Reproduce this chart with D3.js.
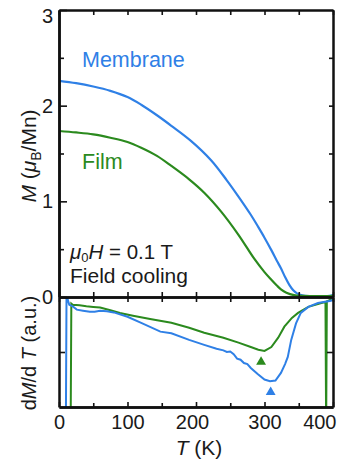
<!DOCTYPE html>
<html><head><meta charset="utf-8">
<script src="https://cdn.jsdelivr.net/npm/d3@7"></script>
<style>
body{margin:0;background:#fff}
svg{display:block}
text{font-family:"Liberation Sans",Arial,Helvetica,sans-serif;fill:#1a1a1a}
</style>
</head><body><svg id="c" width="342" height="464"></svg>
<script>
// ---- data ----
const memT = [0, 25, 50, 75, 100, 120, 143, 164, 193, 222, 245, 262, 280, 291, 300, 310, 318, 324, 330, 336, 342, 348, 355, 365, 380, 395, 400];
const memM = [2.26, 2.235, 2.20, 2.155, 2.09, 2.01, 1.90, 1.79, 1.63, 1.43, 1.22, 1.05, 0.86, 0.73, 0.62, 0.49, 0.38, 0.30, 0.21, 0.13, 0.07, 0.035, 0.018, 0.01, 0.01, 0.012, 0.02];
const filmT = [0, 25, 50, 75, 100, 120, 143, 164, 190, 212, 237, 262, 285, 300, 310, 318, 324, 332, 343, 355, 370, 390, 400];
const filmM = [1.735, 1.72, 1.70, 1.665, 1.62, 1.56, 1.475, 1.37, 1.23, 1.09, 0.89, 0.65, 0.40, 0.26, 0.18, 0.12, 0.08, 0.045, 0.02, 0.012, 0.01, 0.01, 0.012];

const memDT = [10, 11, 13, 15, 20, 26, 35, 45, 52, 60, 70, 80, 100, 120, 148, 164, 190, 212, 230, 240, 245, 250, 255, 260, 265, 270, 275, 280, 290, 300, 308, 316, 324, 330, 334, 339, 346, 353, 364, 378, 397, 404];
const memDV = [-1.2, 0.05, -0.03, -0.07, -0.085, -0.115, -0.125, -0.135, -0.135, -0.125, -0.13, -0.14, -0.18, -0.235, -0.315, -0.33, -0.39, -0.435, -0.47, -0.485, -0.5, -0.495, -0.52, -0.56, -0.57, -0.6, -0.61, -0.645, -0.70, -0.75, -0.765, -0.76, -0.69, -0.61, -0.545, -0.39, -0.24, -0.145, -0.09, -0.055, -0.035, -0.01];
const filmDT = [17, 18, 20, 30, 40, 50, 60, 75, 89, 108, 133, 164, 190, 212, 240, 262, 280, 291, 300, 310, 320, 329, 340, 349, 364, 383, 389, 390, 391, 398];
const filmDV = [-1.2, -0.06, -0.07, -0.075, -0.085, -0.09, -0.095, -0.12, -0.145, -0.17, -0.2, -0.235, -0.28, -0.325, -0.37, -0.415, -0.455, -0.48, -0.49, -0.455, -0.37, -0.27, -0.19, -0.145, -0.09, -0.055, -0.045, -1.2, -0.04, -0.02];

const peakT = [295, 309];         // film, membrane
const peakV = [-0.59, -0.865];

const xTicks = [0, 100, 200, 300, 400];
const yTicks = [0, 1, 2, 3];

const BLUE = "#2f80e6", GREEN = "#2b8a1e";

// ---- layout ----
const svg = d3.select("#c");
const L = 59, R = 333, T0 = 10, MID = 297, B = 407;
const x = d3.scaleLinear([0, 400], [L, R]);
const yT = d3.scaleLinear([0, 3], [MID, T0]);
const yB = d3.scaleLinear([-1, 0], [B, MID]);

svg.append("defs").append("clipPath").attr("id", "clipB")
  .append("rect").attr("x", L).attr("y", MID).attr("width", R - L).attr("height", B - MID);
svg.append("defs").append("clipPath").attr("id", "clipT")
  .append("rect").attr("x", L).attr("y", T0).attr("width", R - L).attr("height", MID - T0);

const lineT = d3.line().x(d => x(d[0])).y(d => yT(d[1])).curve(d3.curveCatmullRom.alpha(0.5));
const lineB = d3.line().x(d => x(d[0])).y(d => yB(d[1]));

// curves top
svg.append("path").datum(d3.zip(memT, memM)).attr("d", lineT)
  .attr("fill", "none").attr("stroke", BLUE).attr("stroke-width", 2.2).attr("clip-path", "url(#clipT)");
svg.append("path").datum(d3.zip(filmT, filmM)).attr("d", lineT)
  .attr("fill", "none").attr("stroke", GREEN).attr("stroke-width", 2.2).attr("clip-path", "url(#clipT)");

// curves bottom
svg.append("path").datum(d3.zip(filmDT, filmDV)).attr("d", lineB)
  .attr("fill", "none").attr("stroke", GREEN).attr("stroke-width", 2).attr("clip-path", "url(#clipB)");
svg.append("path").datum(d3.zip(memDT, memDV)).attr("d", lineB)
  .attr("fill", "none").attr("stroke", BLUE).attr("stroke-width", 2).attr("clip-path", "url(#clipB)");

// peak markers
const tri = d3.symbol().type(d3.symbolTriangle).size(42);
[GREEN, BLUE].forEach((c, i) => {
  svg.append("path").attr("d", tri)
    .attr("transform", `translate(${x(peakT[i])},${yB(peakV[i])})`).attr("fill", c);
});

// ---- axes ----
function style(g) {
  g.select(".domain").attr("stroke", "#111").attr("stroke-width", 2.5);
  g.selectAll(".tick line").attr("stroke", "#111").attr("stroke-width", 1.6);
  g.selectAll(".tick text").attr("font-size", 20).attr("fill", "#1a1a1a")
    .attr("font-family", '"Liberation Sans",Arial,sans-serif');
}
// top panel
const minorX = d3.range(0, 401, 50);
svg.append("g").attr("transform", `translate(0,${T0})`)
  .call(d3.axisTop(x).tickValues(minorX).tickSizeInner(-5).tickSizeOuter(0).tickFormat(""))
  .call(style);
svg.append("g").attr("transform", `translate(0,${MID})`)
  .call(d3.axisBottom(x).tickValues(minorX).tickSizeInner(-5).tickSizeOuter(0).tickFormat(""))
  .call(style);
svg.append("g").attr("transform", `translate(0,${MID})`)
  .call(d3.axisTop(x).tickValues(minorX).tickSizeInner(-5).tickSizeOuter(0).tickFormat(""))
  .call(style);
const gyL = svg.append("g").attr("transform", `translate(${L},0)`)
  .call(d3.axisLeft(yT).tickValues(yTicks).tickSizeInner(-8).tickSizeOuter(0).tickPadding(6).tickFormat(d3.format("d")))
  .call(style);
gyL.selectAll(".tick text").filter(d => d === 3).attr("dy", "0.6em");
svg.append("g").attr("transform", `translate(${L},0)`)
  .call(d3.axisLeft(yT).tickValues([0.5, 1.5, 2.5]).tickSizeInner(-5).tickSizeOuter(0).tickFormat(""))
  .call(style);
svg.append("g").attr("transform", `translate(${R},0)`)
  .call(d3.axisRight(yT).tickValues([0.5, 1, 1.5, 2, 2.5]).tickSizeInner(-4).tickSizeOuter(0).tickFormat(""))
  .call(style);

// bottom panel
const gxB = svg.append("g").attr("transform", `translate(0,${B})`)
  .call(d3.axisBottom(x).tickValues(xTicks).tickSizeInner(-5).tickSizeOuter(0).tickPadding(8).tickFormat(d3.format("d")))
  .call(style);
gxB.selectAll(".tick text").filter(d => d === 400).attr("text-anchor", "end").attr("dx", "0.15em");
gxB.selectAll(".tick text").filter(d => d === 200).attr("dx", "-0.2em");
svg.append("g").attr("transform", `translate(0,${B})`)
  .call(d3.axisBottom(x).tickValues([50, 150, 250, 350]).tickSizeInner(-4).tickSizeOuter(0).tickFormat(""))
  .call(style);
svg.append("g").attr("transform", `translate(${L},0)`)
  .call(d3.axisLeft(yB).tickValues([-0.5]).tickSizeInner(-6).tickSizeOuter(0).tickFormat(""))
  .call(style);
svg.append("g").attr("transform", `translate(${R},0)`)
  .call(d3.axisRight(yB).tickValues([-0.5]).tickSizeInner(-6).tickSizeOuter(0).tickFormat(""))
  .call(style);

// ---- labels ----
svg.append("text").attr("x", 82).attr("y", 67).attr("font-size", 21.5).style("fill", BLUE).text("Membrane");
svg.append("text").attr("x", 82).attr("y", 169).attr("font-size", 21.5).style("fill", GREEN).text("Film");

const t1 = svg.append("text").attr("x", 70).attr("y", 259).attr("font-size", 20.5);
t1.append("tspan").attr("font-style", "italic").text("μ");
t1.append("tspan").attr("font-size", 13).attr("dy", 3).text("0");
t1.append("tspan").attr("font-style", "italic").attr("dy", -3).text("H");
t1.append("tspan").text(" = 0.1 T");
svg.append("text").attr("x", 70).attr("y", 283).attr("font-size", 21).text("Field cooling");

// y label top
const yl = svg.append("text").attr("transform", "translate(36,156) rotate(-90)")
  .attr("text-anchor", "middle").attr("font-size", 21);
yl.append("tspan").attr("font-style", "italic").text("M");
yl.append("tspan").text(" (");
yl.append("tspan").attr("font-style", "italic").text("μ");
yl.append("tspan").attr("font-size", 14).attr("dy", 5).text("B");
yl.append("tspan").attr("dy", -5).text("/Mn)");

// y label bottom
const yl2 = svg.append("text").attr("transform", "translate(36,353) rotate(-90)")
  .attr("text-anchor", "middle").attr("font-size", 20);
yl2.append("tspan").text("d");
yl2.append("tspan").attr("font-style", "italic").text("M");
yl2.append("tspan").text("/d ");
yl2.append("tspan").attr("font-style", "italic").text("T");
yl2.append("tspan").text(" (a.u.)");

// x label
const xl = svg.append("text").attr("x", 199).attr("y", 455).attr("text-anchor", "middle").attr("font-size", 21);
xl.append("tspan").attr("font-style", "italic").text("T");
xl.append("tspan").text(" (K)");
</script></body></html>
